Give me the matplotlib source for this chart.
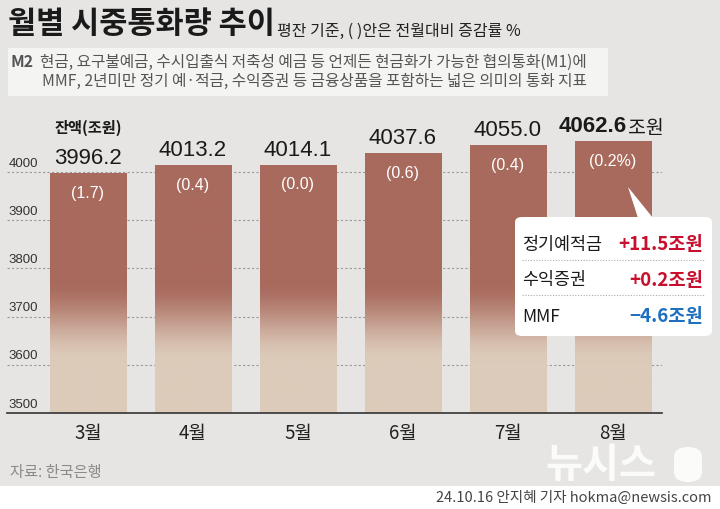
import numpy as np
import matplotlib
matplotlib.use('Agg')
import matplotlib.pyplot as plt
import matplotlib.colors as clr
from matplotlib.patches import FancyBboxPatch, Polygon, Rectangle
from matplotlib.lines import Line2D

plt.rcParams['font.family'] = ['Noto Sans CJK KR', 'DejaVu Sans']

# data
months = ['3월', '4월', '5월', '6월', '7월', '8월']
balance = [3996.2, 4013.2, 4014.1, 4037.6, 4055.0, 4062.6]
change = ['(1.7)', '(0.4)', '(0.0)', '(0.6)', '(0.4)', '(0.2%)']
yticks = [3500, 3600, 3700, 3800, 3900, 4000]
detail_names = ['정기예적금', '수익증권', 'MMF']
detail_values = ['+11.5조원', '+0.2조원', '−4.6조원']

W, H = 720, 510
BG = '#e6e5e3'
DARK = np.array(clr.to_rgb('#a86a5d'))
LIGHT = np.array(clr.to_rgb('#ddcbba'))
NUM = ['Liberation Sans', 'DejaVu Sans']


def fx(x):
    return x / W


def fy(y):
    return 1 - y / H


fig = plt.figure(figsize=(7.2, 5.1), dpi=100)
fig.patch.set_facecolor(BG)

# white strip at bottom
fig.add_artist(Rectangle((0, 0), 1, fy(487), transform=fig.transFigure,
                         facecolor='white', edgecolor='none', zorder=0))

ax = fig.add_axes([fx(7), fy(414), fx(662) - fx(7), fy(120) - fy(414)])
ax.set_facecolor('none')
ymin, ymax = 3500, 3500 + (414 - 120) / 0.482
ax.set_xlim(-0.771, 5.467)
ax.set_ylim(ymin, ymax)
for s in ['top', 'right', 'left']:
    ax.spines[s].set_visible(False)
ax.spines['bottom'].set_color('#333333')
ax.spines['bottom'].set_linewidth(1.2)
ax.set_yticks([])
ax.set_xticks([])

for t in yticks[1:]:
    ax.axhline(t, color='#9a9a9a', lw=0.8, ls=(0, (2, 2)), zorder=1)
for t in yticks:
    ax.annotate(str(t), (0.0, t), xycoords=ax.get_yaxis_transform(),
                xytext=(1, 2.5), textcoords='offset points', ha='left', va='bottom',
                fontsize=9.5, color='#333333', family=NUM)

bw = 0.724
for i, v in enumerate(balance):
    ys = np.linspace(ymin, v, 300)
    tt = np.clip((ys - 3605) / (3775 - 3605), 0, 1)
    tt = tt * tt * (3 - 2 * tt)
    cols = LIGHT[None, :] * (1 - tt[:, None]) + DARK[None, :] * tt[:, None]
    ax.imshow(cols[:, None, :], extent=[i - bw / 2, i + bw / 2, ymin, v],
              origin='lower', aspect='auto', interpolation='bilinear', zorder=2)
    ax.annotate(change[i], (i, v), xytext=(0, -13.5), textcoords='offset points',
                ha='center', va='center', fontsize=11.5, color='white', family=NUM)
    ax.annotate(months[i], (i, ymin), xytext=(0, -14), textcoords='offset points',
                ha='center', va='center', fontsize=13.5, color='#222222')
    if i < len(balance) - 1:
        ax.annotate(f'{v:.1f}', (i, v), xytext=(0, 4), textcoords='offset points',
                    ha='center', va='bottom', fontsize=16, color='#1a1a1a', family=NUM)
    else:
        ax.annotate(f'{v:.1f}', (i, v), xytext=(10, 4), textcoords='offset points',
                    ha='right', va='bottom', fontsize=16, color='#1a1a1a',
                    family=NUM, weight='bold')
        ax.annotate('조원', (i, v), xytext=(11, 3), textcoords='offset points',
                    ha='left', va='bottom', fontsize=14, color='#1a1a1a')
ax.set_xlim(-0.771, 5.467)
ax.set_ylim(ymin, ymax)

ax.annotate('잔액(조원)', (0, balance[0]), xytext=(0, 34), textcoords='offset points',
            ha='center', va='center', fontsize=11, color='#1a1a1a', weight='bold')

# title
fig.text(fx(8), fy(24), '월별 시중통화량 추이', fontsize=22, weight='black',
         color='#1a1a1a', ha='left', va='center')
fig.text(fx(277), fy(31), '평잔 기준, ( )안은 전월대비 증감률 %', fontsize=11.5,
         color='#222222', ha='left', va='center')

# info box
fig.add_artist(Rectangle((fx(8), fy(97)), fx(608) - fx(8), fy(49) - fy(97),
                         transform=fig.transFigure, facecolor='#f4f4f3',
                         edgecolor='none', zorder=1))
fig.text(fx(10), fy(62), 'M2', fontsize=11.5, weight='bold', color='#555555',
         ha='left', va='center')
fig.text(fx(40), fy(62), '현금, 요구불예금, 수시입출식 저축성 예금 등 언제든 현금화가 가능한 협의통화(M1)에',
         fontsize=11.3, color='#555555', ha='left', va='center')
fig.text(fx(42), fy(81), 'MMF, 2년미만 정기 예·적금, 수익증권 등 금융상품을 포함하는 넓은 의미의 통화 지표',
         fontsize=11.3, color='#555555', ha='left', va='center')

# callout box
fig.add_artist(FancyBboxPatch((fx(515), fy(337)), fx(712) - fx(515), fy(218) - fy(337),
                              boxstyle='round,pad=0,rounding_size=0.01',
                              transform=fig.transFigure, facecolor='white',
                              edgecolor='none', zorder=5))
fig.add_artist(Polygon([(fx(628), fy(188)), (fx(638), fy(219)), (fx(653), fy(219))],
                       closed=True, transform=fig.transFigure, facecolor='white',
                       edgecolor='none', zorder=5))
row_y = [245, 280, 317]
val_cols = ['#c8102e', '#c8102e', '#1f6fbf']
for n, (name, val) in enumerate(zip(detail_names, detail_values)):
    fig.text(fx(522), fy(row_y[n]), name, fontsize=12.5, color='#1a1a1a',
             ha='left', va='center', zorder=6)
    fig.text(fx(703), fy(row_y[n]), val, fontsize=13.5, color=val_cols[n],
             weight='bold', ha='right', va='center', zorder=6)
for y in [261, 296]:
    fig.add_artist(Line2D([fx(522), fx(705)], [fy(y), fy(y)], transform=fig.transFigure,
                          color='#aaaaaa', lw=0.8, ls=(0, (1, 1.5)), zorder=6))

# source / watermark / credit
fig.text(fx(10), fy(473), '자료: 한국은행', fontsize=11, color='#8a8a8a',
         ha='left', va='center')
fig.text(fx(545), fy(466), '뉴시스', fontsize=29, weight='bold', color='white',
         alpha=0.85, ha='left', va='center')
fig.add_artist(FancyBboxPatch((fx(674), fy(483)), fx(702) - fx(674), fy(448) - fy(483),
                              boxstyle='round,pad=0,rounding_size=0.02',
                              transform=fig.transFigure, facecolor='white',
                              edgecolor='none', alpha=0.85))
fig.text(fx(711), fy(498), '24.10.16 안지혜 기자 hokma@newsis.com', fontsize=10.5,
         color='#444444', ha='right', va='center')

fig.savefig('out.png', dpi=100, facecolor=fig.get_facecolor())
